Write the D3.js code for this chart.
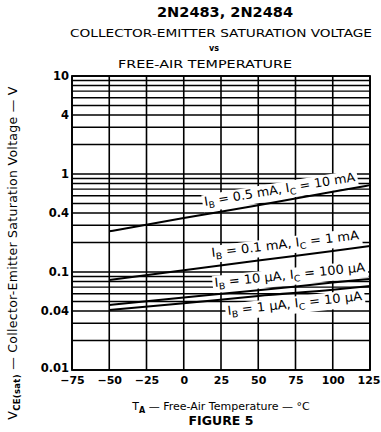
<!DOCTYPE html>
<html><head><meta charset="utf-8">
<script src="https://cdn.jsdelivr.net/npm/d3@7"></script>
<style>
html,body{margin:0;padding:0;background:#fff;}
svg{display:block;}
text{font-family:"DejaVu Sans","Open Sans",sans-serif;fill:#000;}
</style></head>
<body>
<script>
// ---- data ----
const xTicks = [-75, -50, -25, 0, 25, 50, 75, 100, 125];
const yTickValues = [10, 4, 1, 0.4, 0.1, 0.04, 0.01];
const yTickLabels = ["10", "4", "1", "0.4", "0.1", "0.04", "0.01"];
const temps = [-50, 0, 50, 100, 125];
const vce_IB05mA = [0.26, 0.355, 0.48, 0.66, 0.77];
const vce_IB01mA = [0.083, 0.104, 0.131, 0.164, 0.184];
const vce_IB10uA = [0.046, 0.055, 0.065, 0.078, 0.085];
const vce_IB1uA = [0.041, 0.048, 0.057, 0.066, 0.072];
const curveLabels = [
  {ib: "0.5 mA", ic: "10 mA", t0: 14.3, v0: 0.472, t1: 115.6, v1: 0.848},
  {ib: "0.1 mA", ic: "1 mA", t0: 19, v0: 0.142, t1: 118.3, v1: 0.217},
  {ib: "10 \u03bcA", ic: "100 \u03bcA", t0: 21, v0: 0.0703, t1: 122.3, v1: 0.102},
  {ib: "1 \u03bcA", ic: "10 \u03bcA", t0: 29.7, v0: 0.0364, t1: 120.3, v1: 0.0518}
];

const W = 381, H = 432;
const svg = d3.select("body").append("svg").attr("width", W).attr("height", H);
const x = d3.scaleLinear().domain([-75, 125]).range([72, 370]);
const y = d3.scaleLog().domain([0.01, 10]).range([370, 76]);

// titles
const cx = 221;
svg.append("text").attr("x", 225).attr("y", 17).attr("text-anchor", "middle")
  .attr("font-size", 14).attr("font-weight", "bold").attr("textLength", 136).attr("lengthAdjust", "spacingAndGlyphs")
  .text("2N2483, 2N2484");
svg.append("text").attr("x", cx).attr("y", 37).attr("text-anchor", "middle")
  .attr("font-size", 11).attr("textLength", 302).attr("lengthAdjust", "spacingAndGlyphs")
  .text("COLLECTOR-EMITTER SATURATION VOLTAGE");
svg.append("text").attr("x", 214).attr("y", 51).attr("text-anchor", "middle")
  .attr("font-size", 8).attr("font-weight", "bold").text("vs");
svg.append("text").attr("x", 205).attr("y", 68).attr("text-anchor", "middle")
  .attr("font-size", 11).attr("textLength", 174).attr("lengthAdjust", "spacingAndGlyphs")
  .text("FREE-AIR TEMPERATURE");

// grid
const g = svg.append("g");
const hVals = [];
[0.01, 0.1, 1].forEach(d => { for (let k = 1; k <= 9; k++) hVals.push(d * k); });
hVals.push(10);
g.selectAll("line.h").data(hVals).join("line")
  .attr("x1", x(-75)).attr("x2", x(125))
  .attr("y1", d => y(d)).attr("y2", d => y(d))
  .attr("stroke", "#000").attr("stroke-width", 1.3);
g.selectAll("line.v").data(xTicks).join("line")
  .attr("x1", d => x(d)).attr("x2", d => x(d))
  .attr("y1", y(10)).attr("y2", y(0.01))
  .attr("stroke", "#000").attr("stroke-width", 1.6);
g.append("rect").attr("x", x(-75)).attr("y", y(10))
  .attr("width", x(125) - x(-75)).attr("height", y(0.01) - y(10))
  .attr("fill", "none").attr("stroke", "#000").attr("stroke-width", 1.8);

// curve labels (white box behind text interrupts the grid)
curveLabels.forEach(l => {
  const x0 = x(l.t0), y0 = y(l.v0), x1 = x(l.t1), y1 = y(l.v1);
  const ang = Math.atan2(y1 - y0, x1 - x0) * 180 / Math.PI;
  const len = Math.hypot(x1 - x0, y1 - y0);
  const lg = svg.append("g");
  const bg = lg.append("rect").attr("fill", "#fff");
  const t = lg.append("text").attr("font-size", 12.5);
  t.append("tspan").text("I");
  t.append("tspan").attr("font-size", 9).attr("dy", 3).text("B");
  t.append("tspan").attr("dy", -3).text(" = " + l.ib + ", I");
  t.append("tspan").attr("font-size", 9).attr("dy", 3).text("C");
  t.append("tspan").attr("dy", -3).text(" = " + l.ic);
  const bb = t.node().getBBox();
  bg.attr("x", bb.x - 2).attr("y", bb.y + 1).attr("width", bb.width + 4).attr("height", bb.height);
  const sx = len / bb.width;
  lg.attr("transform", `translate(${x0},${y0}) rotate(${ang}) scale(${sx},1)`);
});

// curves
const series = [vce_IB05mA, vce_IB01mA, vce_IB10uA, vce_IB1uA];
const line = d3.line().x(d => x(d[0])).y(d => y(d[1])).curve(d3.curveMonotoneX);
series.forEach(vals => {
  svg.append("path").datum(temps.map((t, i) => [t, vals[i]]))
    .attr("d", line).attr("fill", "none").attr("stroke", "#000").attr("stroke-width", 2);
});

// axes
const ax = svg.append("g").attr("transform", `translate(0,${y(0.01)})`)
  .call(d3.axisBottom(x).tickValues(xTicks).tickSize(0).tickPadding(6)
    .tickFormat(d => (d < 0 ? "\u2212" + Math.abs(d) : String(d))));
ax.select(".domain").remove();
ax.selectAll("text").attr("font-size", 11).attr("font-weight", "bold").attr("font-family", "DejaVu Sans");
ax.selectAll(".tick").filter(d => d === 125).select("text").attr("text-anchor", "end").attr("dx", 10);

const ay = svg.append("g").attr("transform", `translate(${x(-75)},0)`)
  .call(d3.axisLeft(y).tickValues(yTickValues).tickSize(0).tickPadding(3)
    .tickFormat((d, i) => yTickLabels[i]));
ay.select(".domain").remove();
ay.selectAll("text").attr("font-size", 11.5).attr("font-weight", "bold").attr("font-family", "DejaVu Sans");
ay.selectAll(".tick").filter(d => d === 0.01).select("text").attr("dy", "0.1em");

// axis titles
const xt = svg.append("text").attr("x", cx).attr("y", 410).attr("text-anchor", "middle").attr("font-size", 11);
xt.append("tspan").text("T");
xt.append("tspan").attr("font-size", 8).attr("dy", 3).attr("font-weight", "bold").text("A");
xt.append("tspan").attr("dy", -3).text(" \u2014 Free-Air Temperature \u2014 \u00b0C");
svg.append("text").attr("x", cx).attr("y", 425).attr("text-anchor", "middle")
  .attr("font-size", 12.5).attr("font-weight", "bold").text("FIGURE 5");

const yt = svg.append("text").attr("transform", "translate(17,253) rotate(-90)")
  .attr("text-anchor", "middle").attr("font-size", 12.5).attr("letter-spacing", 0.3);
yt.append("tspan").text("V");
yt.append("tspan").attr("font-size", 8.5).attr("dy", 3).attr("font-weight", "bold").text("CE(sat)");
yt.append("tspan").attr("dy", -3).text(" \u2014 Collector-Emitter Saturation Voltage \u2014 V");
</script>
</body></html>
